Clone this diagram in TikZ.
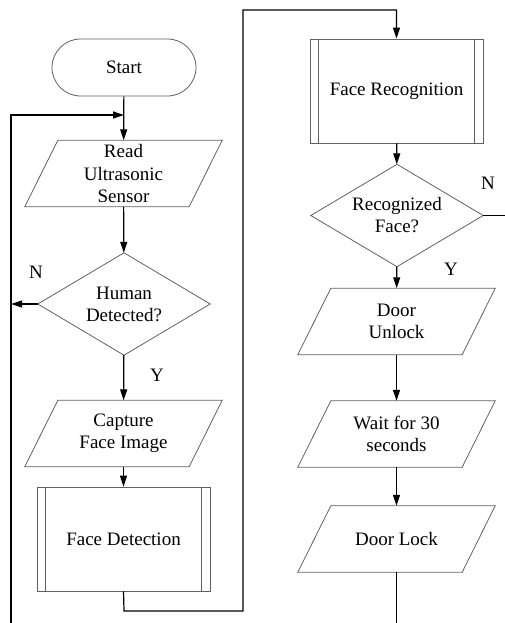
\documentclass[tikz,border=0pt]{standalone}
\usepackage{fontspec}
\setmainfont{Liberation Serif}
\usetikzlibrary{arrows.meta}

\begin{document}
\begin{tikzpicture}[x=1pt,y=-1pt,
  font=\fontsize{19}{22}\selectfont,
  shapeline/.style={draw=black!62, line width=0.8pt},
  conn/.style={line width=1.2pt, -{Triangle[length=11pt,width=7pt]}},
  plain/.style={line width=1.2pt},
  terminal/.style={shapeline, rectangle, rounded corners=28.5pt,
    minimum width=144pt, minimum height=57pt, inner sep=0pt},
  decision/.style={rectangle, minimum width=172pt,
    minimum height=102pt, inner sep=0pt, align=center},
  process/.style={shapeline, rectangle, minimum width=173pt,
    minimum height=104pt, inner sep=0pt},
  io/.style={rectangle, minimum width=131pt, minimum height=66pt,
    inner sep=0pt, align=center},
  tag/.style={inner sep=0pt}
]
\useasboundingbox (0,0) rectangle (505,623);

% left column
\node[terminal] (start)   at (124,67.5)  {Start};
\node[io]       (read)    at (123.5,173.5) {Read\\Ultrasonic\\Sensor};
\node[decision] (human)   at (124,304)   {Human\\Detected?};
\node[io]       (capture) at (123.5,433.5) {Capture\\Face Image};
\node[process]  (detect)  at (123.5,539) {Face Detection};

% right column
\node[process]  (recog)   at (396.5,91)  {Face Recognition};
\node[decision] (known)   at (397,215.5) {Recognized\\Face?};
\node[io]       (unlock)  at (396.5,321.5) {Door\\Unlock};
\node[io]       (wait)    at (396.5,434) {Wait for 30\\seconds};
\node[io]       (lock)    at (396.5,539) {Door Lock};

% parallelogram outlines of the input/output boxes
\foreach \n in {read,capture,unlock,wait,lock}
  \draw[shapeline] (\n.north west) -- ([xshift=33pt]\n.north east)
    -- (\n.south east) -- ([xshift=-33pt]\n.south west) -- cycle;

% diamond outlines of the decisions
\foreach \n in {human,known}
  \draw[shapeline] (\n.north) -- (\n.east) -- (\n.south) -- (\n.west) -- cycle;

% side bars of the predefined processes
\foreach \n in {detect,recog} {
  \draw[shapeline] ([xshift=9pt]\n.north west) -- ([xshift=9pt]\n.south west);
  \draw[shapeline] ([xshift=-9pt]\n.north east) -- ([xshift=-9pt]\n.south east);
}

% branch labels
\node[tag] (hn) at (36,272)  {N};
\node[tag] (hy) at (157,375) {Y};
\node[tag] (kn) at (488,183) {N};
\node[tag] (ky) at (451,269) {Y};

% loop-back rail and junctions
\coordinate (railbot)  at (11,623);
\coordinate (railtop)  at (11,115);
\coordinate (join)     at (124,115);
\coordinate (railmid)  at (11,304);
\coordinate (ddown)    at (124,611);
\coordinate (dright)   at (243,611);
\coordinate (dup)      at (243,10);
\coordinate (dtop)     at (396.5,10);
\coordinate (kexit)    at (505,215.5);
\coordinate (lockout)  at (396.5,623);

% connectors
\draw[conn] (start) -- (read);
\draw[conn] (railbot) -- (railtop) -- (join);
\draw[conn] (read) -- (human);
\draw[conn] (human.west) -- (railmid);
\draw[conn] (human) -- (capture);
\draw[conn] (capture) -- (detect);
\draw[conn] (detect.south) -- (ddown) -- (dright) -- (dup) -- (dtop) -- (recog.north);
\draw[conn] (recog) -- (known);
\draw[plain] (known.east) -- (kexit);
\draw[conn] (known) -- (unlock);
\draw[conn] (unlock) -- (wait);
\draw[conn] (wait) -- (lock);
\draw[plain] (lock.south) -- (lockout);
\end{tikzpicture}
\end{document}
